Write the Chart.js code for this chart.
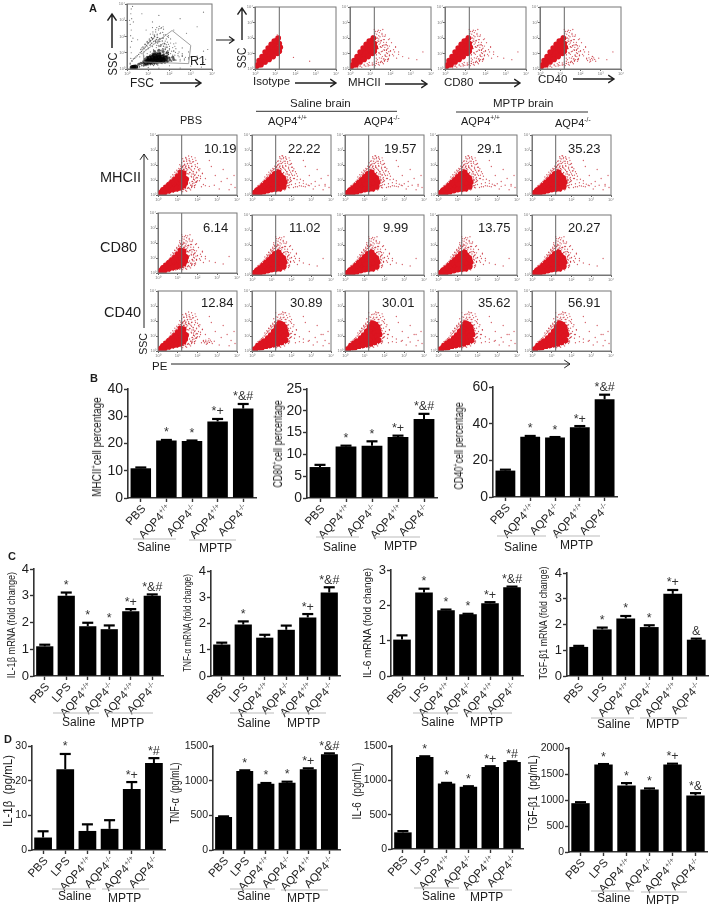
<!DOCTYPE html>
<html>
<head>
<meta charset="utf-8">
<title>AQP4 figure</title>
<script src="https://cdn.jsdelivr.net/npm/chart.js@4/dist/chart.umd.min.js"></script>
<style>
  html, body { margin: 0; padding: 0; background: #fff; }
  #page { position: relative; width: 709px; height: 904px; overflow: hidden; font-family: "Liberation Sans", Arial, sans-serif; color: #1c1c1c; filter: blur(.3px); }
  #page canvas { position: absolute; }
  #page svg { position: absolute; left: 0; top: 0; }
  .t { position: absolute; white-space: nowrap; line-height: 1; }
  .t sup { font-size: .6em; line-height: 0; }
</style>
</head>
<body>
<div id="page"></div>
<script>
// bar chart categories
const catsB = ['PBS', 'AQP4+/+', 'AQP4-/-', 'AQP4+/+', 'AQP4-/-']
const catsCD = ['PBS', 'LPS', 'AQP4+/+', 'AQP4-/-', 'AQP4+/+', 'AQP4-/-']

// panel B
const mhcValues = [10.9, 21.1, 20.9, 28.1, 32.8]
const mhcErrTops = [11.2, 21.3, 21.1, 29, 34.5]
const mhcMarks = ['', '*', '*', '*+', '*&#']
const cd80Values = [7.1, 11.8, 12, 14, 18.1]
const cd80ErrTops = [7.6, 12, 13, 14.3, 19.3]
const cd80Marks = ['', '*', '*', '*+', '*&#']
const cd40Values = [14.4, 32.9, 32.4, 38, 53.3]
const cd40ErrTops = [14.9, 33.3, 32.7, 38.7, 55.8]
const cd40Marks = ['', '*', '*', '*+', '*&#']

// panel C
const il1mrna = [1.11, 3.0, 1.86, 1.75, 2.42, 3.0]
const il1mrnaErr = [1.17, 3.12, 1.99, 1.89, 2.5, 3.05]
const il1mrnaMarks = ['', '*', '*', '*', '*+', '*&#']
const tnfmrna = [1.2, 1.96, 1.46, 1.76, 2.23, 3.18]
const tnfmrnaErr = [1.27, 2.08, 1.57, 1.92, 2.36, 3.38]
const tnfmrnaMarks = ['', '*', '', '', '*+', '*&#']
const il6mrna = [1.03, 2.36, 1.86, 1.75, 2.06, 2.51]
const il6mrnaErr = [1.15, 2.47, 1.88, 1.76, 2.09, 2.53]
const il6mrnaMarks = ['', '*', '*', '*', '*+', '*&#']
const tgfmrna = [1.13, 1.81, 2.23, 1.9, 3.19, 1.41]
const tgfmrnaErr = [1.17, 1.88, 2.33, 1.97, 3.34, 1.45]
const tgfmrnaMarks = ['', '*', '*', '*', '*+', '&']

// panel D
const il1prot = [3.6, 23.3, 5.5, 6.1, 17.6, 25.1]
const il1protErr = [5.4, 27.7, 7.4, 8.6, 19.6, 26.5]
const il1protMarks = ['', '*', '', '', '*+', '*#']
const tnfprot = [476, 1139, 957, 971, 1163, 1380]
const tnfprotErr = [485, 1149, 966, 985, 1178, 1394]
const tnfprotMarks = ['', '*', '*', '*', '*+', '*&#']
const il6prot = [242, 1340, 953, 905, 1195, 1268]
const il6protErr = [261, 1350, 963, 914, 1205, 1277]
const il6protMarks = ['', '*', '*', '*', '*+', '*#']
const tgfprot = [939, 1685, 1280, 1203, 1685, 1087]
const tgfprotErr = [958, 1691, 1325, 1222, 1698, 1132]
const tgfprotMarks = ['', '*', '*', '*', '*+', '*&']

// flow cytometry percentages, rows MHCII, CD80, CD40
const mhcPercent = ['10.19', '22.22', '19.57', '29.1', '35.23']
const cd80Percent = ['6.14', '11.02', '9.99', '13.75', '20.27']
const cd40Percent = ['12.84', '30.89', '30.01', '35.62', '56.91']
const flowTicks = ['10⁰', '10¹', '10²', '10³', '10⁴']

// flow clouds, [log PE, log SSC], read by eye
const coreNarrow = [[.08,.1],[.15,.14],[.2,.22],[.28,.2],[.3,.32],[.38,.28],[.42,.42],[.5,.36],[.52,.52],[.6,.44],[.62,.62],[.7,.5],[.72,.72],[.8,.56],[.82,.82],[.9,.6],[.9,.92],[.98,.72],[1,1.02],[1.05,.6],[1.08,.85],[1.1,1.2],[1.18,.75],[1.2,1],[1.22,1.35],[.35,.18],[.55,.28],[.75,.36],[.95,.42],[1.15,.5],[1.3,.62],[1.3,.9],[1.32,1.15],[1.3,1.45],[1.15,1.5],[1,1.25],[.85,1.02],[.7,.85],[.55,.68],[.4,.5],[.25,.34],[1.38,.8],[1.42,1.05]]
const coreWide = [[.08,.1],[.15,.15],[.22,.2],[.3,.18],[.32,.3],[.4,.26],[.45,.4],[.52,.32],[.58,.5],[.65,.38],[.7,.6],[.78,.42],[.82,.7],[.9,.5],[.95,.82],[1.02,.55],[1.05,.95],[1.15,.6],[1.15,1.1],[1.25,.8],[1.28,1.3],[1.35,.6],[1.4,1],[1.5,.72],[1.55,1.15],[1.05,.72],[1.25,.5],[.4,.14],[.6,.22],[.8,.3],[1,.36],[1.2,.4],[1.4,.42],[1.6,.55],[1.65,.85],[1.6,1.05],[1.45,1.3],[1.35,1.5],[1.15,1.4],[1,1.2],[.85,1],[.7,.82],[.55,.62],[.4,.46],[.25,.3]]
const coreTall = [[.1,.1],[.2,.16],[.3,.26],[.4,.24],[.45,.38],[.55,.36],[.6,.5],[.7,.44],[.75,.62],[.85,.52],[.9,.74],[1,.6],[1.02,.88],[1.12,.66],[1.15,1.02],[1.25,.72],[1.28,1.18],[1.38,.8],[1.4,1.05],[1.45,1.35],[1.52,.85],[1.55,1.2],[1.62,1],[1.3,1.5],[1.5,1.55],[.5,.24],[.7,.32],[.9,.38],[1.1,.44],[1.3,.48],[1.5,.58],[1.7,.72],[1.75,1.1],[1.7,1.35],[1.65,1.6],[1.45,1.7],[1.25,1.6],[1.1,1.3],[.95,1.05],[.8,.85],[.6,.66],[.45,.5],[.3,.36],[1.55,1.75],[1.4,1.85]]
const coreTop = [[.06,.15],[.12,.25],[.2,.28],[.22,.42],[.3,.4],[.32,.6],[.42,.55],[.42,.78],[.52,.7],[.55,.95],[.62,.8],[.65,1.12],[.72,.9],[.75,1.28],[.82,1.05],[.85,1.42],[.92,1.1],[.95,1.55],[1,1.25],[1.03,1.7],[1.1,1.35],[1.1,1.85],[.3,.28],[.5,.45],[.7,.62],[.9,.8],[1.1,1],[1.2,1.15],[1.25,1.4],[1.2,1.65],[1.15,2],[.95,1.8],[.8,1.6],[.65,1.35],[.5,1.1],[.35,.8],[.2,.55]]
const fringe = [[.3,.62],[.42,.74],[.55,.9],[.68,1.08],[.8,1.25],[.92,1.45],[1.02,1.62],[1.12,1.76],[1.25,1.9],[1.38,1.82],[1.5,1.68],[1.6,1.5],[1.72,1.4],[1.8,1.2],[1.85,1],[1.82,.8],[1.75,.6],[1.6,.42],[1.4,.3],[1.18,.28],[.98,.24],[.78,.18],[.58,.12],[.38,.07],[.22,.5],[.36,.66],[.48,.82],[.62,1],[.74,1.18],[.86,1.35],[.98,1.55],[1.08,1.68],[1.2,1.82],[1.32,1.72],[1.44,1.6],[1.56,1.4],[1.68,1.25],[1.72,.9],[1.68,.65],[1.52,.46],[1.3,.36],[1.1,.32],[.9,.28],[.7,.22],[.5,.18],[1.3,1.98],[1.42,1.94],[1.55,1.85],[1.66,1.72],[1.78,1.55],[1.88,1.35],[1.92,1.12],[1.95,.9],[1.9,.68],[1.85,.5],[1.65,.34],[1.45,.25],[1.25,.22],[.15,.36],[1.15,1.92],[1.05,1.78],[.95,1.65],[.85,1.52],[.75,1.35],[.65,1.2]]
const hazeNarrow = [[.5,.2],[.7,.3],[.85,.35],[.95,.42],[1.1,.4],[1.2,.45],[1.3,.5],[1.4,.42],[1.55,.5],[1.7,.55],[1.85,.62],[1.3,.7],[1.45,.72],[1.6,.8],[1.75,.9],[1.95,.85],[2.1,.95],[1.3,.95],[1.42,1.05],[1.55,1.12],[1.7,1.2],[1.85,1.3],[2,1.15],[2.15,1.25],[1.28,1.25],[1.38,1.32],[1.5,1.42],[1.62,1.5],[1.78,1.58],[1.95,1.48],[.95,1.25],[1.02,1.38],[1.12,1.5],[1.2,1.62],[1.3,1.7],[1.42,1.78],[1.55,1.82],[1.7,1.9],[1.05,1.6],[1.15,1.78],[1.25,1.92],[1.35,2],[1.48,2.08],[1.62,2.12],[1.2,2.15],[1.32,2.25],[1.45,2.35],[1.58,2.3],[1.75,2.2],[1.9,1.9],[2.05,1.7],[2.25,1.45],[2.4,1.1],[.7,.9],[.8,1.05],[.6,.75],[1.1,2.02],[1.4,2.5],[1.25,2.42],[.9,1.18],[1.65,.65],[1.5,.95],[1.8,1.05],[2.3,.7]]
const hazeWide = [[.6,.15],[.9,.28],[1.1,.3],[1.3,.32],[1.5,.38],[1.7,.4],[1.9,.48],[2.1,.5],[2.3,.55],[2.5,.6],[2.7,.55],[2.9,.62],[3.2,.58],[1.6,.55],[1.8,.62],[2,.7],[2.2,.75],[2.4,.82],[2.6,.78],[1.65,.85],[1.8,.95],[1.95,1.02],[2.1,1.1],[2.28,1.02],[1.6,1.12],[1.72,1.22],[1.88,1.32],[2,1.4],[2.15,1.32],[2.3,1.25],[1.5,1.38],[1.6,1.48],[1.75,1.55],[1.9,1.65],[2.05,1.6],[1,1.3],[1.08,1.45],[1.15,1.58],[1.25,1.7],[1.35,1.62],[1.45,1.78],[1.55,1.88],[1.7,1.95],[1.85,1.85],[1.1,1.72],[1.2,1.88],[1.3,2],[1.42,2.1],[1.55,2.18],[1.68,2.25],[1.8,2.12],[1.22,2.15],[1.35,2.28],[1.48,2.4],[1.6,2.5],[1.72,2.45],[1.4,2.55],[.8,1.05],[.9,1.2],[.7,.95],[.6,.75],[.95,1.4],[2.45,1.05],[2.6,.95],[2.75,.72],[2.05,1.85],[1.95,2.05],[3,.75],[3.4,.65],[3.7,.6],[1.52,2.62],[2.2,1.55]]
const hazeTall = [[.6,.18],[.9,.28],[1.1,.32],[1.3,.38],[1.5,.45],[1.7,.5],[1.85,.62],[1.75,.75],[1.9,.85],[2,.95],[1.8,1.05],[1.95,1.18],[2.05,1.3],[1.8,1.4],[1.95,1.52],[2.08,1.62],[1.7,1.65],[1.85,1.75],[2,1.85],[1.6,1.8],[1.72,1.92],[1.88,2.02],[2,2.1],[1.45,1.75],[1.55,1.95],[1.68,2.1],[1.8,2.22],[1.92,2.3],[1.3,1.7],[1.4,1.9],[1.5,2.1],[1.62,2.25],[1.75,2.38],[1.88,2.48],[1.2,1.65],[1.25,1.85],[1.35,2.05],[1.45,2.25],[1.58,2.42],[1.7,2.55],[1.1,1.4],[1.02,1.25],[.9,1.1],[.8,.95],[.7,.8],[1.15,1.55],[1.3,2.25],[1.42,2.45],[1.55,2.6],[2.2,.55],[2.4,.62],[2.6,.58],[2.85,.65],[2.15,1.1],[2.25,1.42],[2.12,1.75]]
const hazeTop = [[.9,.2],[1.1,.25],[1.3,.35],[1.5,.42],[1.7,.5],[1.9,.6],[1.35,.6],[1.55,.7],[1.75,.82],[1.95,.9],[2.15,.85],[1.3,.9],[1.45,1.02],[1.6,1.15],[1.8,1.25],[2,1.18],[2.2,1.1],[1.25,1.2],[1.38,1.32],[1.5,1.45],[1.68,1.55],[1.85,1.5],[1.1,1.5],[1.22,1.6],[1.35,1.72],[1.5,1.82],[1.65,1.9],[1.8,1.72],[1.05,1.85],[1.15,1.95],[1.28,2.05],[1.42,2.15],[1.58,2.22],[1.72,2.1],[1.1,2.15],[1.22,2.28],[1.35,2.42],[1.5,2.48],[1.62,2.55],[1.2,2.55],[2.4,.95],[2.6,.8],[2.9,.7],[3.3,.6],[3.6,1.1],[2.25,1.4],[1.95,1.95],[.95,1.7],[.85,1.5],[.8,1.3]]
const hazeIsotype = [[.9,1.9],[1,2],[1.05,2.1],[1.12,1.6],[1.2,1.5],[1.18,1.1],[1.15,.9],[.75,1.45],[.6,1.25],[.95,.8],[1.1,2.2],[1.9,.75],[2.7,.5],[.5,.3],[1.28,1.2]]
const patchRight = [[2.3,.65],[2.35,.55],[2.42,.72],[2.48,.6],[2.5,.5],[2.55,.68],[2.6,.58],[2.65,.72],[2.7,.62],[2.45,.45],[2.58,.82],[2.75,.5]]
const farDots = [[2.9,1.3],[3.2,.9],[3.5,1.1],[3.7,.7],[3.9,.5],[3.3,1.7],[2.7,1.9],[3.1,.4],[3.6,.35],[3.85,1.3],[2.6,2.3]]
const blackCore = [[.9,.42],[1,.52],[1.1,.46],[1.2,.55],[1.3,.5],[1.4,.58],[1.5,.52],[1.6,.6],[1.7,.55],[1.05,.65],[1.2,.7],[1.35,.68],[1.5,.72],[1.65,.72],[1.8,.65],[1.3,.82],[1.5,.85],[.25,.08],[.32,.1],[.4,.12]]
const blackMid = [[.55,.3],[.65,.35],[.75,.38],[.8,.5],[.85,.62],[.95,.72],[1.1,.82],[1.22,.92],[1.38,.95],[1.55,.98],[1.72,.88],[1.88,.8],[1.98,.68],[2.02,.55],[1.9,.48],[1.78,.42],[1.6,.42],[1.4,.38],[1.2,.36],[1,.32],[.82,.26],[2.15,.72],[2.2,.58],[1.3,1.08],[1.5,1.15],[1.7,1.08],[1.9,1]]
const blackHaze = [[.15,.3],[.18,.65],[.2,1],[.16,1.35],[.22,1.7],[.17,2.05],[.2,2.4],[.15,2.75],[.22,3.1],[.18,3.4],[.2,3.7],[.26,3.85],[.3,2.9],[.28,1.9],[.12,3],[.25,.5],[.5,.12],[.7,.2],[.9,.22],[1.1,.3],[1.3,.28],[1.5,.35],[1.7,.4],[1.9,.42],[2.1,.48],[2.3,.55],[2.5,.5],[2.7,.62],[2.6,.85],[.8,.8],[.95,.95],[1.1,1.05],[1.25,1.15],[1.45,1.1],[1.65,1.18],[1.85,1.05],[2.05,.95],[2.25,.85],[2.45,.75],[1,1.25],[1.2,1.38],[1.4,1.45],[1.6,1.42],[1.8,1.35],[2,1.25],[2.2,1.12],[1.15,1.6],[1.35,1.72],[1.55,1.7],[1.75,1.6],[1.95,1.52],[1.45,1.95],[1.7,1.88],[1.3,2.1],[1.9,2],[2.3,1.6],[2.6,1.3],[2.9,1.05],[3.3,.8],[3.6,.4],[3.8,1.2],[.7,1.3],[.5,1.8],[.9,2.4],[1.2,2.9],[1.7,2.6],[2.2,2.4],[2.8,2.2],[3.3,2.6],[1.5,3.3],[2.5,3.1],[3.6,3.5],[.7,3.4],[1,.1],[2,.2],[3,.18],[3.5,.12],[.35,.05],[1.5,.05],[2.5,.06]]
const r1Gate = [[.76,1.02],[2.12,2.37],[3,1.45],[2.9,.33],[.8,.43],[.76,1.02]]

// ---------- plumbing

const page = document.getElementById('page')

function newCanvas(left, top, w, h) {
  const c = document.createElement('canvas')
  c.width = w
  c.height = h
  c.style.left = left + 'px'
  c.style.top = top + 'px'
  c.style.width = w + 'px'
  c.style.height = h + 'px'
  page.appendChild(c)
  return c
}

function text(html, x, y, size, extra) {
  const d = document.createElement('div')
  d.className = 't'
  d.innerHTML = html
  d.style.left = x + 'px'
  d.style.top = y + 'px'
  d.style.fontSize = size + 'px'
  d.style.transform = 'translateY(-50%)'
  if (extra) Object.assign(d.style, extra)
  page.appendChild(d)
}

// rotated y title squeezed to the length it has in the figure
function yTitle(html, x, y0, y1, size) {
  const d = document.createElement('div')
  d.className = 't'
  d.innerHTML = html
  d.style.fontSize = size + 'px'
  d.style.left = x + 'px'
  d.style.top = (y0 + y1) / 2 + 'px'
  page.appendChild(d)
  const k = (y1 - y0) / d.offsetWidth
  d.style.transform = 'translate(-50%,-50%) rotate(-90deg) scaleX(' + k + ')'
}

function barPanel(o) {
  const padL = 46, padR = 5, padT = 16, padB = 56
  const w = o.x1 - o.x0 + padL + padR
  const h = o.yBot - o.yTop + padT + padB
  const c = newCanvas(o.x0 - padL, o.yTop - padT, w, h)
  const extras = {
    id: 'extras',
    afterDatasetsDraw(chart) {
      const ctx = chart.ctx
      const xs = chart.scales.x
      const ys = chart.scales.y
      ctx.save()
      o.cats.forEach((cat, i) => {
        const px = xs.getPixelForTick(i)
        // error bar
        const yv = ys.getPixelForValue(o.values[i])
        const yt = ys.getPixelForValue(o.errTops[i])
        ctx.strokeStyle = '#000'
        ctx.lineWidth = 2
        ctx.beginPath()
        ctx.moveTo(px, yv)
        ctx.lineTo(px, yt)
        ctx.stroke()
        ctx.lineWidth = 2.2
        ctx.beginPath()
        ctx.moveTo(px - 5.5, yt)
        ctx.lineTo(px + 5.5, yt)
        ctx.stroke()
        // significance mark
        if (o.marks[i]) {
          ctx.fillStyle = '#333'
          ctx.font = o.markSize + 'px "Liberation Sans"'
          ctx.textAlign = 'center'
          ctx.textBaseline = 'middle'
          ctx.fillText(o.marks[i], px, yt - 7)
        }
        // slanted category label with a raised genotype
        const m = cat.match(/^(AQP4)(.+)$/)
        ctx.save()
        ctx.translate(px + 3, ys.bottom + 9)
        ctx.rotate(-47 * Math.PI / 180)
        ctx.textAlign = 'right'
        ctx.textBaseline = 'middle'
        ctx.fillStyle = '#1c1c1c'
        if (m) {
          ctx.font = (o.catSize - 4) + 'px "Liberation Sans"'
          const sw = ctx.measureText(m[2]).width
          ctx.fillStyle = '#555'
          ctx.fillText(m[2], 0, -3)
          ctx.fillStyle = '#1c1c1c'
          ctx.font = o.catSize + 'px "Liberation Sans"'
          ctx.fillText(m[1], -sw, 0)
        } else {
          ctx.font = o.catSize + 'px "Liberation Sans"'
          ctx.fillText(cat, 0, 0)
        }
        ctx.restore()
      })
      ctx.restore()
    }
  }
  new Chart(c, {
    type: 'bar',
    data: {
      labels: o.cats,
      datasets: [{ data: o.values, backgroundColor: '#000', barPercentage: .8, categoryPercentage: 1 }],
    },
    plugins: [extras],
    options: {
      responsive: false,
      animation: false,
      layout: { padding: { top: padT, right: padR } },
      plugins: { legend: { display: false }, tooltip: { enabled: false } },
      scales: {
        x: {
          afterFit: s => { s.height = padB },
          border: { color: '#333', width: 1.6 },
          grid: { offset: false, drawOnChartArea: false, tickLength: 4, tickColor: '#333', tickWidth: 1.4 },
          ticks: { display: false },
        },
        y: {
          min: 0, max: o.yMax,
          afterFit: s => { s.width = padL },
          border: { color: '#333', width: 1.6 },
          grid: { drawOnChartArea: false, tickLength: 4, tickColor: '#333', tickWidth: 1.4 },
          ticks: { stepSize: o.yStep, padding: 1, color: '#1c1c1c', font: { size: o.tickSize, family: 'Liberation Sans' }, callback: v => String(v) },
        },
      },
    },
  })
}

const frame = {
  id: 'frame',
  afterDraw(chart) {
    const a = chart.chartArea
    const ctx = chart.ctx
    ctx.save()
    ctx.strokeStyle = '#777'
    ctx.lineWidth = 1
    ctx.strokeRect(a.left, a.top, a.right - a.left, a.bottom - a.top)
    ctx.restore()
  }
}

function dots(data, radius, color) {
  return { data, pointRadius: radius, pointBackgroundColor: color, pointBorderWidth: 0, showLine: false }
}

function flowPanel(x0, y0, x1, y1, layers, over) {
  const padL = 8, padB = 7, padT = 1, padR = 3
  const c = newCanvas(x0 - padL, y0 - padT, x1 - x0 + padL + padR, y1 - y0 + padT + padB)
  new Chart(c, {
    type: 'scatter',
    data: { datasets: (over || []).concat(layers) },
    plugins: [frame],
    options: {
      responsive: false,
      animation: false,
      layout: { padding: { top: padT, right: padR } },
      plugins: { legend: { display: false }, tooltip: { enabled: false } },
      scales: {
        x: {
          min: 0, max: 4,
          afterFit: s => { s.height = padB },
          border: { color: '#777' },
          grid: { drawOnChartArea: false, tickLength: 2, tickColor: '#666' },
          ticks: { stepSize: 1, padding: 0, maxRotation: 0, autoSkip: false, color: '#777', font: { size: 4 }, callback: (v, i) => flowTicks[i] },
        },
        y: {
          min: 0, max: 4,
          afterFit: s => { s.width = padL },
          border: { color: '#777' },
          grid: { drawOnChartArea: false, tickLength: 2, tickColor: '#666' },
          ticks: { stepSize: 1, padding: 0, color: '#777', font: { size: 4 }, callback: (v, i) => flowTicks[i] },
        },
      },
    },
  })
}

const RED = '#dc1420'
const HAZE = 'rgba(200,50,60,.8)'
const gateLine = () => ({ data: [[1.2, 0], [1.2, 4]], showLine: true, borderColor: '#666', borderWidth: 1, pointRadius: 0 })

// ---------- panel A, top row

flowPanel(127, 1, 213, 69, [
  dots(blackCore, 2.6, 'rgba(0,0,0,.85)'),
  dots(blackMid, 1.5, 'rgba(30,30,30,.7)'),
  dots(fringe, .7, 'rgba(40,40,40,.7)'),
  dots(hazeWide, .6, 'rgba(60,60,60,.7)'),
  dots(hazeTop, .6, 'rgba(60,60,60,.7)'),
  dots(blackHaze, .6, 'rgba(70,70,70,.75)'),
], [{ data: r1Gate, showLine: true, borderColor: '#888', borderWidth: .8, pointRadius: 0 }])

const topX = [255, 350, 445, 540]
const topHaze = [
  hazeIsotype,
  hazeTop.concat(hazeNarrow, fringe),
  hazeTop.concat(hazeNarrow, fringe),
  hazeTop.concat(hazeNarrow, fringe, patchRight),
]
topX.forEach((x, i) => {
  flowPanel(x, 4, x + 82, 69, [dots(coreTop, 2.8, RED), dots(topHaze[i], .65, HAZE)], [gateLine()])
})

// ---------- panel A, grid

const colX = [158, 252, 345, 438, 532]
const rowY = [132, 212, 288]
const hazeMhc = hazeWide.concat(hazeTall, fringe, farDots)
const hazeCd80 = hazeNarrow.concat(hazeTop, fringe)
const hazeCd40 = hazeTall.concat(hazeTop, fringe, farDots)
const hazePbs = hazeNarrow.concat(hazeTall, fringe, farDots)
const rowHaze = [
  [hazePbs, hazeMhc, hazeMhc, hazeMhc, hazeMhc],
  [hazeCd80, hazeCd80, hazeCd80, hazeCd80, hazeCd80],
  [hazePbs.concat(patchRight), hazeCd40, hazeCd40, hazeCd40, hazeCd40],
]
const rowCore = [
  [coreNarrow, coreWide, coreWide, coreWide, coreWide],
  [coreNarrow, coreWide, coreWide, coreWide, coreWide],
  [coreNarrow, coreTall, coreTall, coreTall, coreTall],
]
rowY.forEach((y, r) => {
  colX.forEach((x, c) => {
    const yy = (r === 1 && c === 0) ? 210 : y
    flowPanel(x, yy, x + 80, yy + 63, [dots(rowCore[r][c], 2.9, RED), dots(rowHaze[r][c], .65, HAZE)], [gateLine()])
  })
})

const pctX = [
  [204, 288, 384, 477, 568],
  [203, 289, 383, 478, 568],
  [201, 290, 382, 478, 568],
]
const pctY = [148, 227, 302]
;[mhcPercent, cd80Percent, cd40Percent].forEach((row, r) => {
  row.forEach((v, c) => text(v, pctX[r][c], pctY[r], 13))
})

// ---------- panel A, labels and arrows

const AQPp = 'AQP4<sup>+/+</sup>'
const AQPm = 'AQP4<sup>-/-</sup>'
text('A', 89, 8, 11, { fontWeight: 'bold' })
text('B', 90, 378, 11, { fontWeight: 'bold' })
text('C', 8, 556, 11, { fontWeight: 'bold' })
text('D', 4, 739, 11, { fontWeight: 'bold' })
yTitle('SSC', 112, 52, 75, 13)
text('FSC', 130, 83, 12)
text('R1', 190, 61, 12.5)
yTitle('SSC', 242, 47, 68, 12)
text('Isotype', 253, 82, 11.5)
text('MHCII', 348, 83, 11.5)
text('CD80', 444, 83, 11.5)
text('CD40', 538, 80, 11.5)
text('PBS', 180, 120, 11)
text('Saline brain', 290, 104, 11.5)
text('MPTP brain', 493, 104, 11.5)
text(AQPp, 268, 121, 11)
text(AQPm, 364, 121, 11)
text(AQPp, 461, 121, 11)
text(AQPm, 555, 123, 11)
text('MHCII', 100, 177, 14.5)
text('CD80', 100, 247, 14.5)
text('CD40', 104, 312, 14.5)
yTitle('SSC', 144, 333, 355, 11.5)
text('PE', 152, 367, 11.5)

function arrow(x0, y0, x1, y1, w, head) {
  const a = Math.atan2(y1 - y0, x1 - x0)
  const b = .6
  const p = (s) => (x1 - head * Math.cos(a + s * b)) + ',' + (y1 - head * Math.sin(a + s * b))
  return '<path d="M' + x0 + ',' + y0 + 'L' + x1 + ',' + y1 + 'M' + p(1) + 'L' + x1 + ',' + y1 + 'L' + p(-1) + '" fill="none" stroke="#222" stroke-width="' + w + '"/>'
}
function rule(x0, x1, y, color, w) {
  return '<line x1="' + x0 + '" x2="' + x1 + '" y1="' + y + '" y2="' + y + '" stroke="' + color + '" stroke-width="' + w + '"/>'
}
let svg = ''
svg += arrow(112, 48, 112, 14, 1.5, 8)
svg += arrow(160, 83, 201, 83, 1.4, 7)
svg += arrow(216, 40, 234, 40, 1.2, 6)
svg += arrow(242, 40, 242, 8, 1.4, 8)
svg += arrow(295, 83, 336, 83, 1.4, 7)
svg += arrow(385, 84, 427, 84, 1.4, 7)
svg += arrow(479, 83, 520, 83, 1.4, 7)
svg += arrow(573, 79, 614, 79, 1.4, 7)
svg += arrow(144, 328, 144, 154, 1, 7)
svg += arrow(171, 364, 570, 364, 1, 7)
svg += rule(256, 397, 111.3, '#333', 1)
svg += rule(456, 588, 112, '#333', 1)

// ---------- panels B, C, D

const GREY = '#bbb'
function groupLabels(l0, l1, ly, m0, m1, my, sx, sy, mx, my2) {
  svg += rule(l0, l1, ly, GREY, 1) + rule(m0, m1, my, GREY, 1)
  text('Saline', sx, sy, 12)
  text('MPTP', mx, my2, 12)
}

const bStyle = { cats: catsB, tickSize: 14, catSize: 11.5, markSize: 12.5 }
const cStyle = { cats: catsCD, tickSize: 13, catSize: 11.5, markSize: 12.5 }
const dStyle = { cats: catsCD, tickSize: 10.5, catSize: 11.5, markSize: 12.5 }

barPanel({ ...bStyle, x0: 128, x1: 256, yTop: 389, yBot: 498, yMax: 40, yStep: 10, values: mhcValues, errTops: mhcErrTops, marks: mhcMarks })
barPanel({ ...bStyle, x0: 307, x1: 437, yTop: 389, yBot: 498, yMax: 25, yStep: 5, values: cd80Values, errTops: cd80ErrTops, marks: cd80Marks })
barPanel({ ...bStyle, x0: 493, x1: 617, yTop: 387, yBot: 497, yMax: 60, yStep: 20, values: cd40Values, errTops: cd40ErrTops, marks: cd40Marks })

barPanel({ ...cStyle, x0: 34, x1: 163, yTop: 569, yBot: 676, yMax: 4, yStep: 1, values: il1mrna, errTops: il1mrnaErr, marks: il1mrnaMarks })
barPanel({ ...cStyle, x0: 211, x1: 340, yTop: 571, yBot: 676, yMax: 4, yStep: 1, values: tnfmrna, errTops: tnfmrnaErr, marks: tnfmrnaMarks })
barPanel({ ...cStyle, x0: 391, x1: 523, yTop: 570, yBot: 676, yMax: 3, yStep: 1, values: il6mrna, errTops: il6mrnaErr, marks: il6mrnaMarks })
barPanel({ ...cStyle, x0: 567, x1: 708, yTop: 573, yBot: 676, yMax: 4, yStep: 1, values: tgfmrna, errTops: tgfmrnaErr, marks: tgfmrnaMarks })

barPanel({ ...dStyle, x0: 32, x1: 165, yTop: 746, yBot: 850, yMax: 30, yStep: 10, values: il1prot, errTops: il1protErr, marks: il1protMarks })
barPanel({ ...dStyle, x0: 213, x1: 340, yTop: 746, yBot: 850, yMax: 1500, yStep: 500, values: tnfprot, errTops: tnfprotErr, marks: tnfprotMarks })
barPanel({ ...dStyle, x0: 392, x1: 523, yTop: 746, yBot: 849, yMax: 1500, yStep: 500, values: il6prot, errTops: il6protErr, marks: il6protMarks })
barPanel({ ...dStyle, x0: 569, x1: 707, yTop: 748, yBot: 852, yMax: 2000, yStep: 500, values: tgfprot, errTops: tgfprotErr, marks: tgfprotMarks })

yTitle('MHCII<sup>+</sup>cell percentage', 97, 397, 497, 12)
yTitle('CD80<sup>+</sup>cell percentage', 278, 400, 487, 12)
yTitle('CD40<sup>+</sup>cell percentage', 459, 402, 489, 12)
yTitle('IL-1β mRNA (fold change)', 11, 572, 678, 11)
yTitle('TNF-α mRNA (fold change)', 187, 574, 672, 11)
yTitle('IL-6 mRNA (fold change)', 367, 568, 678, 11)
yTitle('TGF-β1 mRNA (fold change)', 543, 566, 679, 11)
yTitle('IL-1β&nbsp; (pg/mL)', 7, 755, 827, 13)
yTitle('TNF-α&nbsp; (pg/mL)', 175, 762, 823, 12)
yTitle('IL-6&nbsp; (pg/mL)', 357, 762, 819, 12)
yTitle('TGF-β1&nbsp; (pg/mL)', 533, 755, 831, 12)

groupLabels(133, 176, 539, 189, 236, 540, 137, 547, 199, 548)
groupLabels(316, 359, 537, 373, 420, 537, 323, 547, 384, 546)
groupLabels(497, 546, 536, 554, 600, 536, 504, 547, 560, 545)
groupLabels(53, 99, 713, 106, 153, 713, 62, 722, 111, 723)
groupLabels(230, 274, 713, 281, 326, 713, 237, 723, 287, 723)
groupLabels(413, 458, 713, 465, 512, 713, 421, 722, 470, 722)
groupLabels(591, 634, 718, 640, 687, 718, 597, 724, 646, 724)
groupLabels(52, 96, 889, 102, 149, 889, 58, 896, 108, 898)
groupLabels(230, 275, 889, 281, 328, 890, 237, 896, 287, 898)
groupLabels(414, 459, 888, 465, 512, 890, 422, 896, 470, 897)
groupLabels(591, 634, 891, 641, 687, 892, 597, 898, 646, 900)

const layer = document.createElementNS('http://www.w3.org/2000/svg', 'svg')
layer.setAttribute('width', 709)
layer.setAttribute('height', 904)
layer.innerHTML = svg
page.appendChild(layer)
</script>
</body>
</html>
